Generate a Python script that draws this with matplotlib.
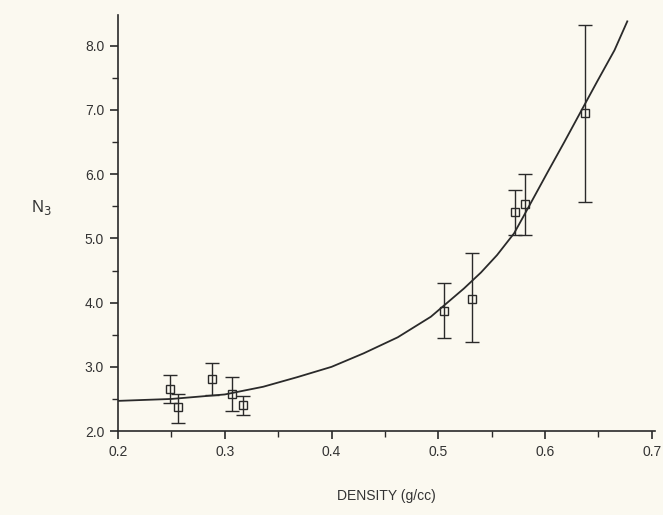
import matplotlib.pyplot as plt
from matplotlib.ticker import MultipleLocator, FormatStrFormatter

plt.rcParams['font.family'] = ['Liberation Sans', 'DejaVu Sans']

# measured points with error bars
density = [0.249, 0.256, 0.288, 0.307, 0.317, 0.505, 0.532, 0.572, 0.581, 0.637]
n3 = [2.65, 2.38, 2.81, 2.58, 2.40, 3.87, 4.06, 5.41, 5.53, 6.95]
err_low = [2.43, 2.13, 2.56, 2.32, 2.25, 3.45, 3.38, 5.06, 5.06, 5.56]
err_high = [2.87, 2.58, 3.06, 2.84, 2.55, 4.31, 4.77, 5.76, 6.00, 8.33]

# fitted curve
curve_x = [0.200, 0.250, 0.300, 0.336, 0.368, 0.400, 0.430, 0.462, 0.493, 0.524,
           0.540, 0.555, 0.571, 0.580, 0.602, 0.618, 0.633, 0.649, 0.665, 0.677]
curve_y = [2.47, 2.50, 2.57, 2.69, 2.84, 3.00, 3.21, 3.46, 3.78, 4.22,
           4.47, 4.74, 5.08, 5.35, 6.02, 6.50, 6.96, 7.45, 7.93, 8.38]

ink = '#2a2a2a'
paper = '#fbf9f0'

fig = plt.figure(figsize=(6.63, 5.15), dpi=100, facecolor=paper)
ax = fig.add_axes([0.178, 0.163, 0.81, 0.808], facecolor=paper)

ax.plot(curve_x, curve_y, color=ink, lw=1.3)

yerr = [[v - lo for v, lo in zip(n3, err_low)], [hi - v for v, hi in zip(n3, err_high)]]
ax.errorbar(density, n3, yerr=yerr, fmt='s', mfc='none', mec=ink, ms=6, mew=1.0,
            ecolor=ink, elinewidth=1.0, capsize=5, capthick=1.2)

ax.set_xlim(0.2, 0.703)
ax.set_ylim(2.0, 8.48)
ax.xaxis.set_major_locator(MultipleLocator(0.1))
ax.xaxis.set_minor_locator(MultipleLocator(0.05))
ax.yaxis.set_major_locator(MultipleLocator(1.0))
ax.yaxis.set_minor_locator(MultipleLocator(0.5))
ax.xaxis.set_major_formatter(FormatStrFormatter('%.1f'))
ax.yaxis.set_major_formatter(FormatStrFormatter('%.1f'))

for s in ['top', 'right']:
    ax.spines[s].set_visible(False)
for s in ['left', 'bottom']:
    ax.spines[s].set_color(ink)
    ax.spines[s].set_linewidth(1.2)

ax.tick_params(which='major', length=6, width=1.2, color=ink, labelsize=10,
               labelcolor='#333333', direction='out', pad=4)
ax.tick_params(which='minor', length=4, width=1.0, color=ink, direction='out')

ax.set_xlabel('DENSITY (g/cc)', fontsize=10, color='#333333', labelpad=22)
fig.text(0.062, 0.597, 'N$_3$', fontsize=12, color='#333333', ha='center', va='center')

plt.savefig('out.png', dpi=100, facecolor=paper)
